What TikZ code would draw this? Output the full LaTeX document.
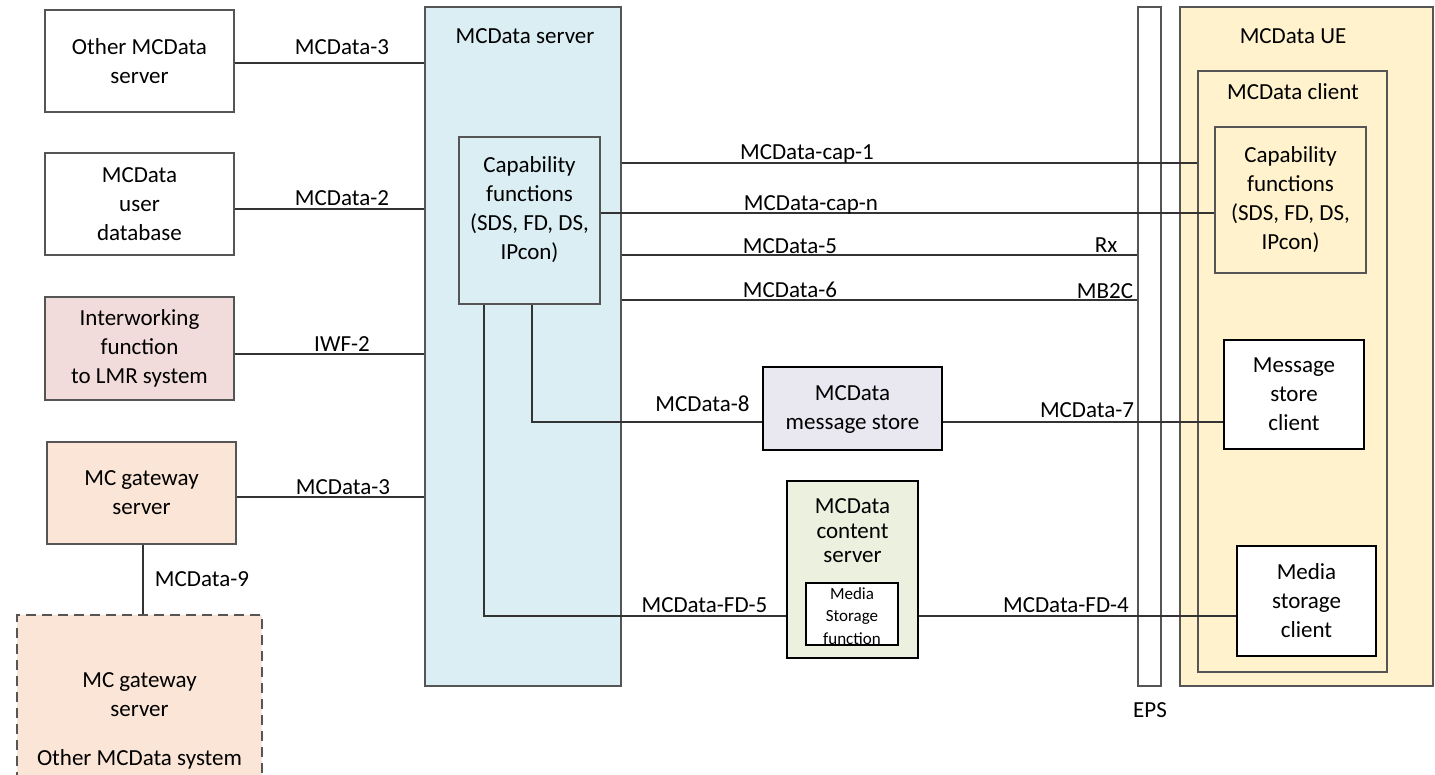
\documentclass[tikz,border=0pt]{standalone}
\usepackage{fontspec}
\setmainfont{Carlito}
\definecolor{edge}{HTML}{555555}
\definecolor{wire}{HTML}{333333}
\definecolor{srvblue}{HTML}{DAEEF3}
\definecolor{iwfpink}{HTML}{F2DCDB}
\definecolor{gwpeach}{HTML}{FBE5D6}
\definecolor{storelav}{HTML}{E9E7F0}
\definecolor{cntgreen}{HTML}{EBF1DE}
\definecolor{ueyellow}{HTML}{FFF2CC}
\tikzset{
  txt/.style={font=\fontsize{23}{29}\selectfont, align=center, inner sep=0pt},
  smalltxt/.style={font=\fontsize{17}{22.5}\selectfont, align=center, inner sep=0pt},
  box/.style={draw=edge, line width=1.3pt, fill=white, inner sep=0pt, txt},
  blackbox/.style={box, draw=black},
  lbl/.style={anchor=base, inner sep=0pt, font=\fontsize{23}{29}\selectfont},
  wireline/.style={draw=wire, line width=1.3pt},
}
\begin{document}
\begin{tikzpicture}[x=1pt,y=-1pt]
\clip (0,0) rectangle (1435,774);

% left-hand entities
\node[box, minimum width=189pt, minimum height=102pt] (oth) at (139.5,61) {Other MCData\\server};
\node[box, minimum width=189pt, minimum height=102pt] (udb) at (139.5,204) {MCData\\user\\database};
\node[box, fill=iwfpink, minimum width=189pt, minimum height=103pt] (iwf) at (139.5,348.5) {Interworking\\function\\to LMR system};
\node[box, fill=gwpeach, minimum width=189pt, minimum height=102pt] (gw) at (141.5,493) {MC gateway\\server};
\node[box, fill=gwpeach, dash pattern=on 10pt off 6pt, minimum width=245pt, minimum height=185pt] (gwo) at (139.5,707.5) {};
\node[txt] (gwotxt) at (139.5,695) {MC gateway\\server};
\node[txt] (gwosys) at (139.5,759) {Other MCData system};

% MCData server and its capability functions
\node[box, fill=srvblue, minimum width=196pt, minimum height=679pt] (srv) at (523,346.5) {};
\node[lbl] (srvtitle) at (525,43) {MCData server};
\node[box, fill=srvblue, minimum width=141pt, minimum height=167pt] (cap) at (529.5,220.5) {};
\node[txt] (captxt) at (529.5,210) {Capability\\functions\\(SDS, FD, DS,\\IPcon)};

% message store and content server
\node[blackbox, fill=storelav, minimum width=179pt, minimum height=83pt] (mst) at (852.5,408.5) {};
\node[txt] (msttxt) at (852.5,410) {MCData\\message store};
\node[blackbox, fill=cntgreen, line width=2.2pt, minimum width=131pt, minimum height=177pt] (cnt) at (852.5,569.5) {};
\node[txt, font=\fontsize{23}{24.5}\selectfont] (cnttxt) at (852.5,531) {MCData\\content\\server};
\node[blackbox, line width=1.8pt, minimum width=92pt, minimum height=62pt] (msf) at (852,614) {};
\node[smalltxt] (msftxt) at (852,616) {Media\\Storage\\function};

% EPS
\node[box, minimum width=23pt, minimum height=679pt] (eps) at (1149.5,346.5) {};
\node[lbl] (epstxt) at (1150,717) {EPS};

% MCData UE
\node[box, fill=ueyellow, minimum width=253pt, minimum height=679pt] (ue) at (1306.5,346.5) {};
\node[lbl] (uetitle) at (1293,43) {MCData UE};
\node[box, fill=ueyellow, minimum width=189pt, minimum height=601pt] (cli) at (1292.5,371.5) {};
\node[lbl] (clititle) at (1293,99) {MCData client};
\node[box, fill=ueyellow, minimum width=151pt, minimum height=146pt] (ccap) at (1290.5,200) {Capability\\functions\\(SDS, FD, DS,\\IPcon)};
\node[blackbox, minimum width=140pt, minimum height=109pt] (msc) at (1294,394.5) {Message\\store\\client};
\node[blackbox, minimum width=139pt, minimum height=110pt] (mdc) at (1306.5,601) {Media\\storage\\client};

% reference points
\coordinate (r3) at (0,63);
\coordinate (r2) at (0,209);
\coordinate (riwf) at (0,354);
\coordinate (r3b) at (0,497);
\coordinate (rc1) at (0,163);
\coordinate (rcn) at (0,213);
\coordinate (r5) at (0,255);
\coordinate (r6) at (0,300);
\coordinate (r8) at (0,422);
\coordinate (rfd) at (0,616);
\coordinate (x8) at (532,0);
\coordinate (xfd) at (484,0);
\coordinate (x9) at (143,0);

% interfaces on the left
\draw[wireline] (oth.east |- r3) -- (srv.west |- r3);
\draw[wireline] (udb.east |- r2) -- (srv.west |- r2);
\draw[wireline] (iwf.east |- riwf) -- (srv.west |- riwf);
\draw[wireline] (gw.east |- r3b) -- (srv.west |- r3b);
\draw[wireline] (gw.south -| x9) -- (gwo.north -| x9);

% interfaces towards the UE
\draw[wireline] (srv.east |- rc1) -- (cli.west |- rc1);
\draw[wireline] (cap.east |- rcn) -- (ccap.west |- rcn);
\draw[wireline] (srv.east |- r5) -- (eps.west |- r5);
\draw[wireline] (srv.east |- r6) -- (eps.west |- r6);
\draw[wireline] (cap.south -| x8) |- (mst.west |- r8);
\draw[wireline] (mst.east |- r8) -- (msc.west |- r8);
\draw[wireline] (cap.south -| xfd) |- (cnt.west |- rfd);
\draw[wireline] (cnt.east |- rfd) -- (mdc.west |- rfd);

% interface labels
\node[lbl] (l3) at (342,54) {MCData-3};
\node[lbl] (l2) at (342,205) {MCData-2};
\node[lbl] (liwf) at (342,351) {IWF-2};
\node[lbl] (l3b) at (343,494) {MCData-3};
\node[lbl] (l9) at (202,586) {MCData-9};
\node[lbl] (lc1) at (807,159) {MCData-cap-1};
\node[lbl] (lcn) at (811,210) {MCData-cap-n};
\node[lbl] (l5) at (790,253) {MCData-5};
\node[lbl] (l6) at (790,297) {MCData-6};
\node[lbl] (lrx) at (1106,252) {Rx};
\node[lbl] (lmb) at (1105,298) {MB2C};
\node[lbl] (l8) at (702.5,411) {MCData-8};
\node[lbl] (l7) at (1087,417) {MCData-7};
\node[lbl] (lfd5) at (704.5,612) {MCData-FD-5};
\node[lbl] (lfd4) at (1066,612) {MCData-FD-4};
\end{tikzpicture}
\end{document}
